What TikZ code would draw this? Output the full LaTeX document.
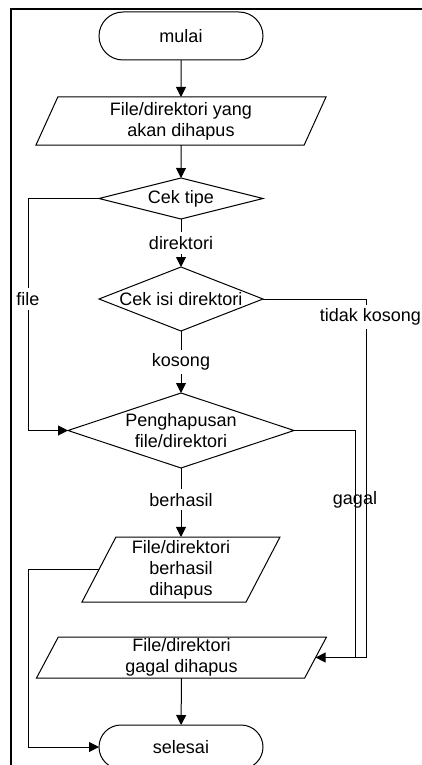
\documentclass[tikz,border=0pt]{standalone}
\usepackage{fontspec}
\setmainfont{Liberation Sans}
\usetikzlibrary{shapes.geometric,shapes.misc,arrows.meta}
\begin{document}
\begin{tikzpicture}[x=1pt,y=-1pt,
  every node/.style={font=\fontsize{18}{21}\selectfont, inner sep=0pt, outer sep=0pt},
  base/.style={draw, line width=1pt},
  terminal/.style={base, rounded rectangle, minimum width=164pt},
  io/.style={base, align=center, trapezium, trapezium left angle=60,
             trapezium right angle=120, trapezium stretches body},
  decision/.style={base, diamond},
  flow/.style={line width=1pt, -{Triangle[length=10pt,width=10pt]}},
  link/.style={line width=1pt},
  lbl/.style={fill=white, inner xsep=1pt, inner ysep=4pt},
]
\useasboundingbox (0,0) rectangle (422,765);
% page frame
\draw[line width=2pt] (11,9) rectangle (480,800);

% flowchart steps
\node[terminal, minimum height=48pt] (mulai) at (181,36) {mulai};
\node[io, minimum width=290pt, minimum height=48pt] (masuk) at (181,121)
  {File/direktori yang\\akan dihapus};
\node[decision, aspect=4, minimum width=164pt, minimum height=41pt] (tipe) at (181,198.5) {Cek tipe};
\node[decision, aspect=2.56, minimum width=164pt, minimum height=64pt] (isi) at (181,299) {Cek isi direktori};
\node[decision, align=center, aspect=3, minimum width=226pt, minimum height=75pt] (hapus) at (181,430.5)
  {Penghapusan\\file/direktori};
\node[io, minimum width=198pt, minimum height=65pt] (sukses) at (181,569.5)
  {File/direktori\\berhasil\\dihapus};
\node[io, minimum width=290pt, minimum height=41pt] (gagal) at (181.5,657.5)
  {File/direktori\\gagal dihapus};
\node[terminal, minimum height=44pt] (selesai) at (181,747) {selesai};

% routing columns
\coordinate (lx) at (28,0);
\coordinate (rxa) at (366,0);
\coordinate (rxb) at (355,0);

% main line
\draw[flow] (mulai) -- (masuk);
\draw[flow] (masuk) -- (tipe);
\draw[flow] (tipe) -- node[lbl] {direktori} (isi);
\draw[flow] (isi) -- node[lbl] {kosong} (hapus);
\draw[flow] (hapus) -- node[lbl, pos=0.46] (lber) {berhasil} (sukses);
\draw[flow] (gagal) -- (selesai);

% branch: file
\draw[flow] (tipe.west) -- (tipe.west -| lx) -- (hapus.west -| lx) -- (hapus.west);
\node[lbl] (lfile) at (lx |- isi) {file};

% branch: tidak kosong / gagal
\draw[flow] (isi.east) -- (isi.east -| rxa) -- (gagal.east -| rxa) -- (gagal.east);
\node[lbl] (ltk) at (370.5,317) {tidak kosong};
\draw[link] (hapus.east) -- (hapus.east -| rxb) -- (gagal.east -| rxb);
\node (lgagal) at (rxb |- lber) {gagal};

% success to end
\draw[flow] (sukses.west) -- (sukses.west -| lx) -- (selesai.west -| lx) -- (selesai.west);
\end{tikzpicture}
\end{document}
